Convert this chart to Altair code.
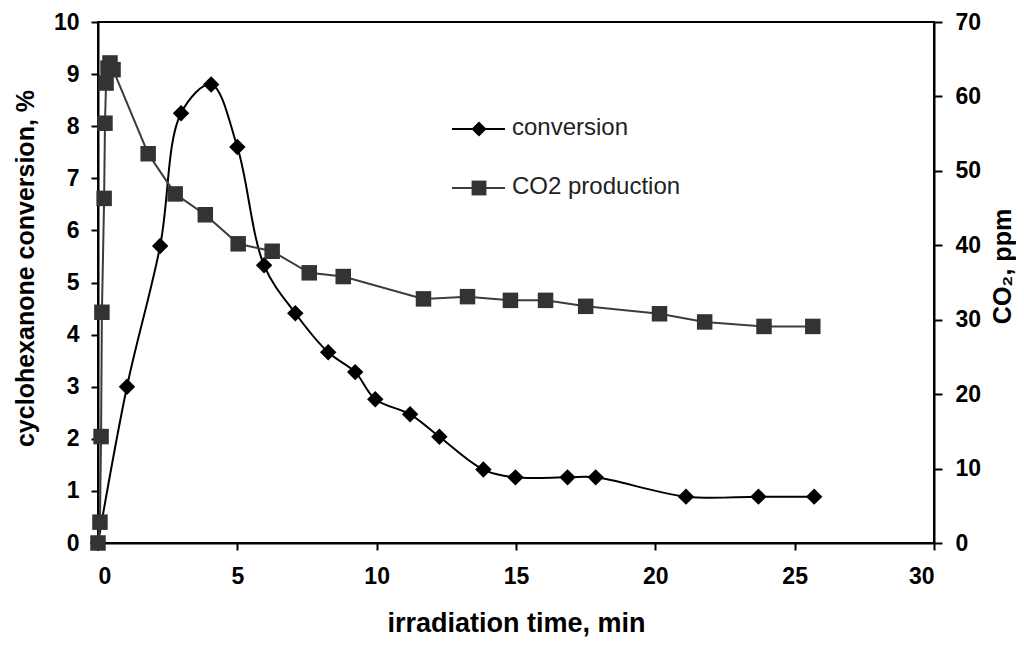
import altair as alt
import pandas as pd

# ---- data ----
conv_time = [0, 1.04, 2.23, 2.98, 4.06, 5.0, 5.96, 7.08, 8.26, 9.23, 9.95,
             11.2, 12.25, 13.83, 14.98, 16.85, 17.86, 21.1, 23.7, 25.7]
conversion = [0, 3.0, 5.7, 8.25, 8.8, 7.6, 5.33, 4.41, 3.66, 3.28, 2.76,
              2.47, 2.04, 1.41, 1.26, 1.26, 1.26, 0.89, 0.89, 0.89]

co2_time = [0, 0.07, 0.11, 0.14, 0.22, 0.25, 0.29, 0.36, 0.43, 0.54,
            1.8, 2.77, 3.85, 5.03, 6.25, 7.58, 8.8, 11.68, 13.26, 14.8,
            16.06, 17.5, 20.15, 21.77, 23.9, 25.65]
co2_ppm = [0, 2.8, 14.3, 31.0, 46.3, 56.4, 61.8, 63.8, 64.5, 63.6,
           52.3, 46.9, 44.1, 40.2, 39.2, 36.3, 35.8, 32.8, 33.1, 32.6,
           32.6, 31.8, 30.8, 29.7, 29.1, 29.1]

x_ticks = [0, 5, 10, 15, 20, 25, 30]
left_ticks = list(range(0, 11))
right_ticks = list(range(0, 71, 10))
legend_labels = ["conversion", "CO2 production"]

FONT = "Liberation Sans"

conv_df = pd.DataFrame({"t": conv_time, "v": conversion})
co2_df = pd.DataFrame({"t": co2_time, "v": co2_ppm})

xscale = alt.Scale(domain=[0, 30], nice=False, zero=True)
xaxis = alt.Axis(values=x_ticks, title="irradiation time, min", grid=False,
                 labelFont=FONT, labelFontSize=23, labelFontWeight="bold",
                 labelColor="black", labelPadding=15,
                 titleFont=FONT, titleFontSize=27, titleFontWeight="bold",
                 titleColor="black", titleBaseline="alphabetic", titleY=88,
                 tickSize=7, tickWidth=2, tickColor="black",
                 domainColor="black", domainWidth=2)

x_enc = alt.X("t:Q", scale=xscale, axis=xaxis)

left_axis = alt.Axis(orient="left", values=left_ticks, format="d",
                     title="cyclohexanone conversion, %", grid=False,
                     labelFont=FONT, labelFontSize=23, labelFontWeight="bold",
                     labelColor="black", labelPadding=12,
                     titleFont=FONT, titleFontSize=25, titleFontWeight="bold",
                     titleColor="black", titleAngle=270, titleBaseline="middle",
                     titleAlign="center", titleX=-73, titleY=246,
                     tickSize=7, tickWidth=2, tickColor="black",
                     domainColor="black", domainWidth=2)

right_axis = alt.Axis(orient="right", values=right_ticks, format="d",
                      title="CO\u2082, ppm", grid=False,
                      labelFont=FONT, labelFontSize=23, labelFontWeight="bold",
                      labelColor="black", labelPadding=13,
                      titleFont=FONT, titleFontSize=25, titleFontWeight="bold",
                      titleColor="black", titleAngle=270, titleBaseline="middle",
                      titleAlign="center", titleX=68, titleY=244,
                      tickSize=8, tickWidth=2, tickColor="black",
                      domainColor="black", domainWidth=2)

co2_line = alt.Chart(co2_df).mark_line(color="#3c3c3c", strokeWidth=2).encode(
    x=x_enc,
    y=alt.Y("v:Q", scale=alt.Scale(domain=[0, 70], nice=False), axis=right_axis),
)
co2_pts = alt.Chart(co2_df).mark_point(shape="square", filled=True, size=240,
                                       color="#333333", opacity=1).encode(
    x=x_enc,
    y=alt.Y("v:Q", scale=alt.Scale(domain=[0, 70], nice=False), axis=right_axis),
)

conv_line = alt.Chart(conv_df).mark_line(color="black", strokeWidth=2,
                                         interpolate="catmull-rom").encode(
    x=x_enc,
    y=alt.Y("v:Q", scale=alt.Scale(domain=[0, 10], nice=False), axis=left_axis),
)
conv_pts = alt.Chart(conv_df).mark_point(shape="diamond", filled=True, size=270,
                                         color="black", opacity=1).encode(
    x=x_enc,
    y=alt.Y("v:Q", scale=alt.Scale(domain=[0, 10], nice=False), axis=left_axis),
)

co2_layer = alt.layer(co2_line, co2_pts)
conv_layer = alt.layer(conv_line, conv_pts)

# ---- manual legend (inside plot) ----
leg1 = pd.DataFrame({"label": [legend_labels[0]]})
leg2 = pd.DataFrame({"label": [legend_labels[1]]})

leg1_rule = alt.Chart(leg1).mark_rule(color="black", strokeWidth=2).encode(
    x=alt.value(354), x2=alt.value(407), y=alt.value(107))
leg1_pt = alt.Chart(leg1).mark_point(shape="diamond", filled=True, size=230,
                                     color="black", opacity=1).encode(
    x=alt.value(381), y=alt.value(107))
leg1_txt = alt.Chart(leg1).mark_text(align="left", baseline="middle", font=FONT,
                                     fontSize=24, color="#222222").encode(
    x=alt.value(414), y=alt.value(106), text="label:N")

leg2_rule = alt.Chart(leg2).mark_rule(color="#3c3c3c", strokeWidth=2).encode(
    x=alt.value(354), x2=alt.value(407), y=alt.value(166))
leg2_pt = alt.Chart(leg2).mark_point(shape="square", filled=True, size=220,
                                     color="#333333", opacity=1).encode(
    x=alt.value(381), y=alt.value(166))
leg2_txt = alt.Chart(leg2).mark_text(align="left", baseline="middle", font=FONT,
                                     fontSize=24, color="#222222").encode(
    x=alt.value(414), y=alt.value(165), text="label:N")

chart = alt.layer(
    conv_layer, co2_layer,
    leg1_rule, leg1_pt, leg1_txt, leg2_rule, leg2_pt, leg2_txt,
).resolve_scale(y="independent").properties(
    width=836, height=521,
    autosize=alt.AutoSizeParams(type="none"),
    padding={"left": 90, "top": 14, "right": 82, "bottom": 95},
    background="white",
).configure_view(stroke="black", strokeWidth=2)

chart.save("out.html", embed_options={"renderer": "svg", "actions": False})
